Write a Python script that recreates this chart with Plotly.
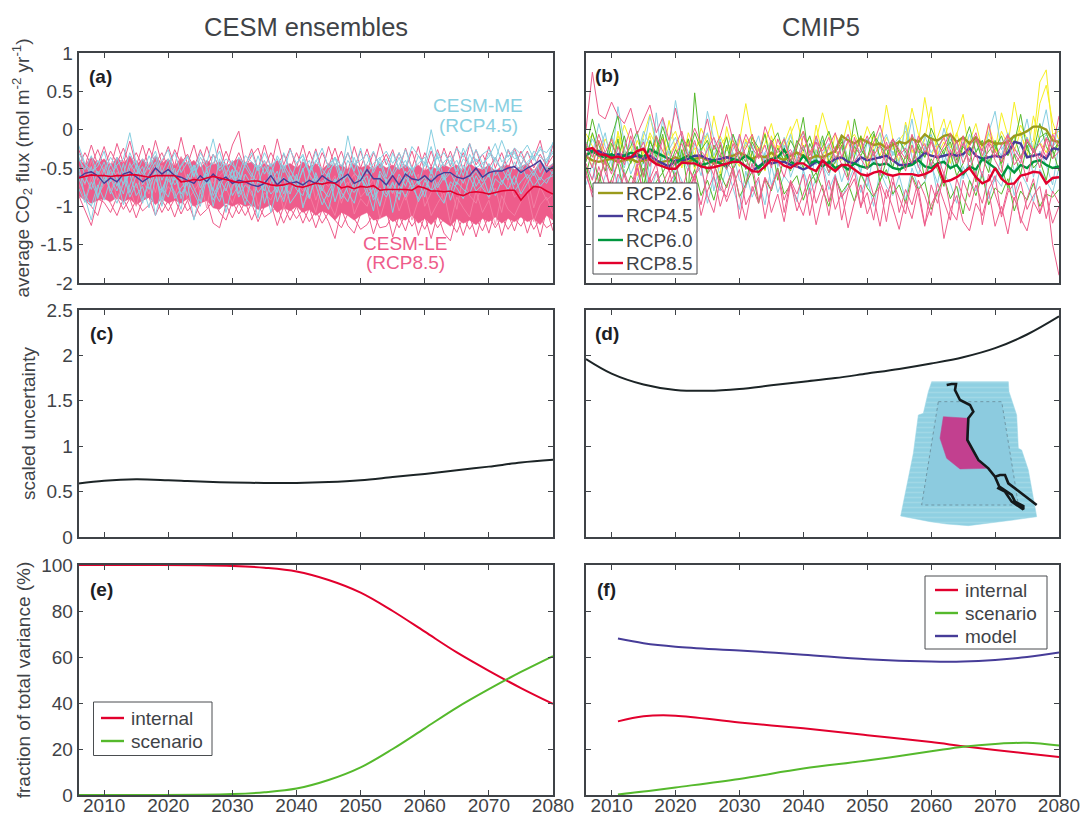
import plotly.graph_objects as go

years = list(range(2006, 2081))

# --- Panel (a): values in hundredths of mol m-2 yr-1
a_pink_upper = [-25,-48,-20,-46,-22,-50,-18,-44,-15,-48,-20,-50,-14,-44,-22,-48,-10,-46,-20,-52,-22,-48,-18,-50,-20,
 -2,-48,-25,-52,-20,-50,-12,-46,-24,-50,-20,-52,-25,-54,-22,-48,-28,-54,-22,-50,-25,-52,-18,-46,-26,
 -54,-24,-50,-22,-56,-28,-52,-24,-48,-22,-54,-18,-46,-32,-50,-36,-54,-26,-50,-28,-48,-36,-14,-50,-20]
a_pink_upper2 = [-48,-30,-46,-26,-48,-28,-44,-24,-46,-30,-48,-24,-44,-30,-50,-26,-44,-32,-50,-26,-48,-32,-50,-28,-48,
 -30,-50,-34,-24,-50,-30,-46,-32,-52,-30,-50,-28,-52,-30,-48,-24,-52,-30,-50,-28,-54,-30,-48,-32,-52,
 -30,-52,-28,-54,-30,-48,-26,-50,-28,-52,-30,-50,-26,-52,-22,-50,-30,-52,-24,-46,-28,-50,-32,-48,-34]
a_pink_lower = [-85,-105,-125,-90,-95,-108,-88,-104,-90,-115,-92,-88,-112,-92,-106,-90,-110,-92,-116,-95,-92,-122,-128,-98,-115,
 -96,-112,-96,-120,-100,-96,-125,-100,-118,-100,-122,-102,-128,-104,-120,-142,-104,-125,-135,-110,-104,-136,-110,-104,-140,
 -112,-132,-104,-138,-112,-142,-110,-135,-145,-112,-138,-112,-140,-110,-135,-104,-138,-110,-132,-106,-135,-110,-140,-104,-132]
a_pink_lower2 = [-70,-92,-100,-112,-84,-96,-112,-90,-108,-92,-106,-98,-88,-108,-92,-114,-90,-106,-96,-112,-104,-92,-108,-118,-94,
 -110,-94,-118,-98,-114,-108,-100,-122,-102,-116,-104,-120,-106,-122,-108,-118,-128,-110,-116,-130,-124,-110,-128,-126,-112,
 -128,-110,-126,-114,-130,-112,-128,-116,-120,-134,-114,-130,-116,-132,-112,-128,-114,-130,-116,-126,-112,-130,-116,-128,-122]
a_core_upper = [-38,-46,-36,-44,-38,-48,-36,-44,-34,-46,-38,-48,-34,-44,-38,-48,-36,-46,-40,-50,-40,-46,-42,-48,-42,
 -38,-46,-42,-50,-44,-48,-40,-48,-44,-50,-42,-48,-44,-52,-44,-48,-46,-52,-44,-50,-46,-52,-44,-50,-46,
 -52,-46,-52,-46,-54,-48,-52,-46,-50,-46,-54,-44,-50,-52,-46,-54,-48,-46,-52,-48,-44,-54,-42,-50,-44]
a_core_lower = [-86,-92,-96,-92,-90,-94,-88,-94,-90,-98,-92,-88,-98,-90,-96,-92,-96,-90,-100,-96,-92,-102,-104,-96,-100,
 -96,-100,-98,-104,-102,-98,-108,-102,-106,-100,-108,-104,-112,-106,-110,-118,-108,-112,-118,-112,-108,-118,-116,-112,-120,
 -116,-118,-112,-122,-116,-124,-114,-120,-126,-116,-122,-118,-124,-116,-120,-114,-122,-116,-120,-114,-120,-116,-124,-112,-118]
a_pink_m1 = [-50,-72,-40,-66,-48,-80,-55,-70,-42,-76,-60,-50,-82,-46,-68,-58,-35,-72,-54,-84,-44,-70,-60,-52,-78,
 -48,-66,-86,-58,-40,-74,-62,-90,-52,-70,-80,-56,-92,-66,-74,-60,-96,-72,-58,-88,-78,-64,-98,-70,-84,
 -62,-92,-74,-58,-100,-82,-68,-94,-72,-104,-60,-86,-96,-70,-90,-76,-108,-66,-88,-80,-62,-102,-74,-92,-84]
a_pink_m2 = [-70,-92,-62,-85,-72,-55,-90,-68,-78,-100,-66,-84,-52,-94,-74,-86,-60,-92,-80,-68,-102,-58,-88,-76,-96,
 -72,-90,-60,-100,-82,-92,-70,-104,-78,-64,-98,-84,-108,-72,-94,-112,-80,-68,-110,-90,-100,-76,-116,-88,-74,
 -106,-84,-118,-92,-78,-112,-96,-82,-122,-88,-102,-114,-80,-108,-92,-124,-86,-104,-112,-94,-82,-120,-98,-88,-110]
a_blue_m1 = [-38,-52,-34,-60,-42,-68,-36,-58,-30,-50,-62,-44,-28,-56,-38,-66,-46,-34,-60,-42,-70,-32,-54,-44,-64,
 -36,-48,-62,-34,-58,-44,-70,-30,-52,-66,-38,-56,-28,-60,-46,-36,-64,-40,-54,-24,-58,-44,-36,-62,-30,
 -52,-40,-60,-34,-48,-22,-54,-42,-34,-58,-38,-46,-26,-44,-36,-18,-42,-34,-28,-46,-30,-40,-22,-44,-16]
a_blue_m2 = [-62,-84,-100,-72,-92,-64,-80,-56,-88,-70,-96,-62,-112,-76,-88,-60,-84,-70,-118,-80,-66,-92,-74,-58,-86,
 -72,-98,-64,-82,-70,-108,-76,-62,-96,-84,-68,-90,-56,-78,-88,-66,-82,-94,-70,-60,-86,-76,-100,-64,-108,
 -72,-88,-66,-94,-78,-60,-84,-96,-68,-76,-90,-62,-80,-72,-58,-86,-66,-78,-60,-84,-70,-56,-74,-64,-60]
a_blue_m3 = [-30,-46,-60,-40,-54,-36,-50,-72,-44,-58,-38,-52,-34,-66,-48,-30,-56,-42,-62,-36,-50,-44,-28,-58,-40,
 -66,-46,-30,-54,-40,-60,-34,-50,-68,-44,-32,-58,-40,-52,-62,-36,-48,-30,-56,-66,-44,-28,-50,-38,-60,
 -46,-26,-52,-44,-36,-58,-30,-48,-40,-54,-24,-46,-38,-52,-30,-42,-50,-26,-38,-34,-48,-28,-36,-42,-30]
a_blue_m4 = [-76,-95,-68,-88,-60,-78,-96,-70,-58,-86,-74,-102,-64,-82,-54,-90,-76,-66,-84,-100,-62,-78,-94,-70,-60,
 -88,-72,-80,-115,-66,-84,-74,-94,-62,-78,-86,-58,-72,-98,-80,-64,-90,-74,-82,-68,-60,-92,-76,-88,-70,
 -84,-62,-74,-90,-66,-80,-72,-56,-92,-68,-78,-84,-60,-76,-88,-64,-72,-52,-80,-68,-58,-74,-62,-70,-54]
a_blue_m5 = [-20,-44,-54,-48,-28,-62,-46,-38,-4,-44,-58,-34,-52,-40,-26,-60,-48,-36,-54,-30,-44,-12,-50,-38,-46,
 -58,-34,-42,-52,-30,-48,-38,-56,-26,-44,-34,-54,-42,-24,-50,-36,-58,-8,-46,-40,-32,-56,-38,-28,-44,
 -30,-50,-22,-34,-44,0,-38,-30,-46,-24,-36,-18,-42,-32,-26,-40,-14,-36,-24,-32,-20,-38,-26,-30,-18]
a_blue_m6 = [-56,-70,-48,-90,-66,-52,-74,-44,-82,-60,-48,-78,-56,-92,-50,-72,-62,-86,-46,-76,-58,-100,-64,-80,-52,
 -84,-58,-72,-46,-96,-68,-54,-84,-60,-76,-50,-88,-64,-70,-56,-94,-68,-60,-78,-52,-72,-88,-54,-68,-82,
 -58,-74,-50,-70,-62,-80,-48,-66,-56,-72,-46,-64,-54,-68,-44,-60,-50,-66,-42,-58,-48,-60,-40,-52,-44]
a_blue_m7 = [-46,-88,-118,-76,-52,-84,-62,-98,-72,-46,-92,-70,-54,-100,-64,-82,-104,-58,-76,-94,-50,-86,-68,-108,-74,
 -56,-88,-100,-66,-80,-52,-94,-72,-84,-58,-102,-74,-60,-88,-104,-70,-54,-82,-96,-62,-78,-106,-58,-84,-68,
 -92,-54,-78,-66,-88,-52,-76,-62,-82,-56,-70,-48,-74,-60,-84,-50,-68,-58,-72,-46,-64,-52,-66,-48,-58]
a_blue_m8 = [-34,-60,-78,-54,-70,-44,-64,-84,-50,-40,-72,-56,-42,-78,-60,-50,-90,-64,-46,-68,-54,-80,-38,-66,-52,
 -74,-42,-58,-70,-48,-62,-82,-46,-60,-74,-52,-40,-66,-80,-54,-44,-70,-58,-36,-62,-76,-50,-42,-68,-56,
 -36,-60,-48,-72,-42,-56,-34,-64,-50,-40,-60,-32,-50,-44,-62,-36,-54,-40,-30,-52,-42,-34,-56,-38,-28]
a_mean85 = [-63,-61,-59,-60,-60,-61,-60,-60,-59,-59,-61,-62,-60,-60,-60,-60,-68,-67,-65,-66,-63,-61,-63,-65,-66,
 -69,-68,-67,-67,-70,-72,-73,-72,-70,-74,-75,-72,-70,-71,-69,-70,-76,-74,-77,-74,-75,-73,-79,-78,-78,
 -78,-78,-79,-74,-76,-80,-80,-81,-80,-84,-86,-82,-81,-82,-84,-82,-80,-79,-79,-92,-82,-74,-75,-80,-84]
a_mean45 = [-63,-57,-55,-60,-70,-63,-68,-58,-55,-62,-68,-62,-50,-58,-52,-60,-62,-66,-70,-60,-68,-58,-66,-62,-70,
 -66,-68,-72,-74,-70,-60,-72,-64,-70,-68,-72,-66,-70,-60,-66,-70,-64,-58,-70,-66,-52,-64,-64,-72,-60,
 -72,-58,-64,-66,-60,-68,-60,-56,-56,-62,-64,-60,-50,-62,-56,-54,-54,-50,-48,-56,-50,-46,-40,-55,-48]

# --- Panel (b)
b_yellow1 = [-5,-22,-38,-12,-30,-8,-26,-44,-14,-32,-4,-20,-38,-16,-2,-30,-12,-34,2,-18,-42,-8,-28,-14,-36,
 -20,-6,-34,-18,8,-26,-12,-40,-22,-2,-30,-14,22,-8,-28,-40,-16,-6,-24,4,-18,-34,-10,-26,-14,
 -2,-30,-18,42,-6,-22,-12,12,-26,-8,-30,-14,-20,-4,-28,22,-8,-18,6,-12,-24,34,58,10,-14]
b_yellow2 = [-18,-6,-30,-46,-12,-24,6,-16,-38,-8,20,-22,-10,-34,-18,-50,-4,-26,-14,-36,18,-20,-8,-44,-16,
 34,-12,-28,-4,-36,-20,-42,-6,14,-24,-10,-30,-16,-46,-6,-22,12,-32,-14,-40,-8,-24,32,-12,-30,
 -18,28,-6,-22,-36,-10,14,-24,-4,-34,-16,8,-26,-12,-30,-2,-20,36,-8,-24,-14,62,78,-6,-2]
b_yellow3 = [-30,-48,-14,-36,-54,-2,-40,-22,-60,-28,-8,-46,-34,12,-26,-44,-16,-52,-30,-6,-38,-58,4,-32,-48,
 -12,-42,-26,-54,-8,-36,-18,4,-44,-28,-50,6,-34,-20,-56,-10,-38,-26,-8,-48,-22,-4,-36,-18,-42,
 10,-26,-40,-12,30,-32,-16,-44,-6,20,-30,-14,-38,6,-22,-44,-10,-28,-2,-36,18,-16,-30,-8,-26]
b_blue1 = [-36,-12,-28,-44,-8,-30,-50,-14,-34,-2,-22,-40,14,-26,-10,-36,-54,-18,-32,24,-12,-44,-22,-6,-38,
 -16,-30,-8,-42,-20,-48,-10,-34,-18,-4,-28,-46,-14,-36,-24,-6,-40,-18,-30,-12,-44,-22,-6,-34,-16,
 -26,14,-40,-8,-30,-18,-44,-12,-24,-36,-6,-28,-14,-46,-20,-34,-4,-24,-38,-10,-26,-18,-6,-22,-12]
b_blue2 = [-50,-64,-30,-4,-46,-70,-24,-58,-38,-12,-62,22,-44,-28,-70,-8,-48,-34,-60,-18,-80,-42,-52,-30,-66,
 -76,-44,-58,-30,-72,-48,-20,-62,-38,-54,-78,-26,-46,-60,-34,-68,-42,-20,-56,-74,-32,-50,-64,-28,-44,
 6,-36,-60,-22,-46,-70,-30,-52,-14,-64,-38,-58,-24,-48,-68,-34,-18,-54,-40,-10,-62,-28,-46,-72,-20]
b_blue3 = [-16,-32,8,-22,-40,30,-18,-36,-6,-28,18,-14,-44,-24,38,-10,-30,-48,-20,-4,-34,-12,-52,-26,-8,
 -42,-20,-60,-30,-14,-46,-26,-6,-38,-22,-52,-12,-32,-18,-44,-24,-8,-36,-56,-16,-30,-4,-42,-20,-10,
 -34,-14,-50,-24,-6,-38,2,-28,-46,-16,-32,-10,-42,-4,24,-26,-12,-36,-20,14,-30,-8,26,-24,4]
b_blue4 = [-72,-44,-88,-60,-36,-78,-52,-92,-66,-40,-84,-56,-74,-100,-48,-68,-86,-58,-44,-96,-62,-80,-50,-76,-104,
 -54,-88,-66,-98,-46,-82,-60,-72,-94,-52,-84,-64,-44,-78,-58,-90,-70,-48,-82,-62,-100,-54,-74,-86,-60,
 -92,-50,-76,-68,-42,-84,-58,-70,-96,-48,-66,-80,-54,-90,-62,-74,-44,-86,-56,-72,-94,-52,-68,-82,-50]
b_green1 = [-42,-4,-30,-54,-18,-38,-8,-44,-22,-60,-14,-36,-6,-50,-26,-40,-12,-48,-30,-56,-20,-36,-10,-44,-28,
 -52,-16,-34,-6,-46,-24,-40,-14,-30,-50,-18,-36,-8,-42,-26,-12,-46,-22,-34,-16,-2,-38,-24,-50,-14,
 -30,-44,-18,-36,-10,-42,-26,-16,-48,-22,-34,-12,-40,-28,-18,-44,-24,-8,-36,-16,-30,8,-22,-38,-14]
b_green2 = [-60,-24,-70,-36,-54,-12,-62,-42,-22,-74,-34,-8,-56,-40,-64,-26,-80,48,-30,-58,-44,-68,-20,-52,-36,
 -72,-28,-60,-46,-16,-66,-38,-54,-24,16,-48,-70,-32,-56,-42,-20,-62,-36,-8,-52,-26,-68,-40,-16,-58,
 -34,-46,-22,-64,-38,-52,-74,-30,-60,-44,-24,-68,-36,-56,-14,-48,-76,-32,-58,-20,-50,-40,-66,-26,-54]
b_green3 = [-48,-78,-56,-90,-64,-44,-84,-60,-72,-50,-94,-68,-56,-82,-62,-100,-74,-52,-86,-66,-92,-58,-76,-48,-88,
 -70,-54,-96,-64,-80,-50,-84,-72,-60,-92,-68,-56,-78,-100,-62,-82,-70,-94,-58,-76,-88,-66,-52,-84,-72,
 -96,-60,-78,-68,-104,-82,-62,-90,-74,-110,-66,-86,-58,-98,-76,-84,-64,-106,-80,-92,-70,-100,-84,-88,-78]
b_green4 = [-26,14,-20,-40,-10,18,-34,-22,-2,-44,-16,-30,4,-24,-48,-12,-36,-4,-26,-14,-40,-20,-50,-6,-30,
 -42,-10,-24,-52,-18,-4,-34,-46,-14,-28,-8,-38,-22,-2,-30,-16,-44,14,-26,-38,-6,-20,-34,-12,-28,
 -46,-8,-24,-36,2,-18,-32,-6,-40,-20,4,-30,-14,-42,-24,-8,-34,-18,20,-26,-36,-10,-4,-28,-16]
b_pink1 = [0,75,20,14,36,18,8,28,-6,12,32,-4,16,-14,28,-10,-22,2,-18,14,-26,-8,20,-14,-32,
 -6,-24,-36,4,-18,-30,-12,-42,-20,-2,-34,-16,-28,-10,-38,-22,-6,-30,-14,-40,-18,6,-26,-12,-34,
 -24,-44,-8,-30,-16,-38,-22,-4,-32,-18,-42,-12,-28,8,-36,-20,-6,-30,-44,-14,-26,-38,-10,-24,18]
b_pink2 = [-30,-50,-14,-40,-58,-22,-46,-8,-34,-62,-26,-44,-12,-54,-32,-18,-48,-66,-28,-38,-60,-16,-42,-54,-6,
 -36,-58,-24,-48,-14,-40,-62,-30,-50,-20,-44,-8,-34,-56,-22,-46,-66,-10,-38,-52,-28,-60,-16,-42,-30,
 -54,-20,-48,-64,-12,-36,-58,-26,-44,-8,-52,-30,-62,-18,-40,-56,-14,-46,-34,-68,-24,-50,-12,-38,-28]
b_pink3 = [-60,-82,-48,-74,-66,-92,-56,-78,-44,-86,-62,-104,-70,-52,-88,-68,-94,-58,-112,-80,-60,-100,-72,-50,-86,
 -118,-74,-96,-64,-108,-84,-120,-70,-92,-112,-76,-124,-88,-66,-104,-82,-128,-94,-72,-110,-88,-126,-78,-102,-130,
 -92,-116,-76,-124,-98,-80,-142,-104,-86,-120,-132,-96,-112,-80,-126,-100,-136,-88,-116,-132,-94,-110,-84,-122,-100]
b_pink4 = [-44,-66,-30,-56,-76,-38,-60,-86,-48,-34,-72,-54,-90,-62,-40,-80,-50,-68,-98,-58,-42,-76,-88,-54,-116,
 -70,-44,-92,-62,-78,-52,-108,-66,-84,-58,-112,-72,-48,-94,-60,-118,-80,-64,-102,-56,-86,-74,-120,-68,-90,
 -110,-62,-84,-126,-72,-96,-58,-104,-118,-66,-88,-54,-124,-78,-60,-114,-82,-70,-122,-90,-64,-108,-78,-150,-190]
b_pink5 = [-18,-36,-6,-30,-12,-44,-24,2,-34,-16,-48,-8,-28,-40,-20,-2,-36,-14,-46,-26,-10,-32,-52,-18,-40,
 -24,-6,-38,-20,-50,-12,-34,-26,-44,-8,-30,-16,-48,-22,-4,-36,-14,-42,-28,-8,-34,-20,-46,-12,-26,
 -38,-6,-30,-18,-48,-24,-10,-36,-14,-44,-22,-4,-34,-16,-28,-42,-8,-24,-38,-12,-30,-18,-36,-6,-22]
b_pink6 = [-54,-88,-66,-40,-96,-58,-74,-104,-50,-82,-64,-44,-92,-70,-56,-102,-78,-60,-48,-86,-108,-66,-94,-72,-52,
 -98,-80,-62,-116,-74,-56,-92,-68,-106,-84,-58,-96,-72,-112,-62,-88,-76,-54,-100,-82,-118,-68,-90,-60,-108,
 -78,-98,-66,-86,-112,-70,-94,-118,-64,-88,-106,-72,-96,-58,-84,-110,-76,-92,-68,-104,-86,-74,-116,-80,-96]
b_mean26 = [-35,-40,-42,-40,-38,-42,-40,-38,-42,-40,-38,-44,-42,-40,-36,-40,-42,-38,-36,-40,-44,-42,-36,-34,-30,
 -34,-38,-34,-36,-30,-36,-40,-34,-30,-34,-38,-34,-36,-32,-28,-8,-14,-18,-12,-16,-20,-18,-24,-20,-16,
 -18,-12,-16,-6,-12,-14,-8,-6,-16,-10,-18,-10,-20,-14,-18,-18,-16,-8,-6,-2,4,4,0,-14,-16]
b_mean45 = [-26,-28,-28,-32,-34,-32,-34,-36,-34,-38,-34,-40,-44,-48,-40,-40,-38,-34,-34,-38,-40,-38,-36,-38,-42,
 -48,-54,-48,-42,-44,-42,-42,-46,-48,-52,-48,-42,-42,-44,-38,-36,-42,-44,-36,-40,-38,-36,-34,-40,-46,
 -46,-44,-38,-30,-34,-36,-34,-32,-34,-32,-24,-34,-38,-36,-34,-36,-30,-16,-18,-36,-34,-32,-38,-24,-26]
b_mean60 = [-34,-28,-34,-36,-32,-38,-34,-30,-32,-36,-26,-30,-34,-38,-44,-38,-34,-40,-46,-44,-40,-44,-48,-38,-40,
 -34,-40,-50,-42,-38,-36,-26,-42,-46,-34,-44,-40,-48,-42,-50,-46,-52,-44,-48,-50,-44,-46,-44,-50,-52,
 -48,-46,-40,-48,-50,-44,-42,-50,-46,-58,-48,-52,-38,-44,-50,-62,-48,-56,-46,-50,-42,-40,-46,-50,-48]
b_mean85 = [-26,-24,-32,-33,-37,-35,-38,-36,-28,-25,-39,-45,-48,-51,-51,-43,-44,-44,-48,-50,-49,-47,-44,-42,-42,
 -48,-54,-55,-48,-39,-41,-47,-50,-44,-44,-50,-54,-40,-48,-54,-46,-46,-52,-58,-60,-56,-54,-58,-60,-58,
 -58,-58,-60,-58,-54,-45,-68,-66,-62,-56,-50,-62,-70,-66,-50,-64,-71,-70,-60,-58,-55,-56,-70,-63,-62]
b_legend_names = ['RCP2.6','RCP4.5','RCP6.0','RCP8.5']

# --- Panels (c)-(f): smooth curves read at selected years
c_years = [2006,2010,2015,2020,2025,2030,2035,2040,2045,2050,2055,2060,2065,2070,2075,2080]
c_uncert = [.59,.62,.635,.625,.61,.60,.595,.595,.605,.625,.66,.695,.735,.775,.82,.85]
d_uncert = [1.96,1.80,1.68,1.62,1.61,1.63,1.67,1.71,1.75,1.80,1.85,1.91,1.98,2.08,2.23,2.43]
e_years = [2006,2015,2025,2030,2035,2040,2045,2050,2055,2060,2065,2070,2075,2080]
e_internal = [100,100,99.9,99.6,98.8,97.2,93.5,88,80,71,62,54,46.5,39.6]
e_scenario = [0,0,.1,.4,1.2,2.8,6.5,12,20,29,38,46,53.5,60.4]
f_years = [2011,2015,2020,2030,2040,2050,2060,2065,2070,2075,2080]
f_internal = [32,34.2,34.5,31.5,29,26,23,21.2,19.6,18,16.5]
f_scenario = [.2,1.5,3.3,7,11.5,15,19,21,22.2,22.7,21.5]
f_model = [68,66,64.5,62.8,61,59,58,58,58.7,60,62]

# --- Inset map outlines
map_outer_x = [155,385,387,410,415,425,445,470,400,330,265,200,150,62,100,115,130,145,155]
map_outer_y = [35,35,65,135,235,240,300,440,450,460,467,462,455,438,250,135,130,65,35]
map_inner_x = [175,365,405,415,125,175]
map_inner_y = [95,95,340,405,405,95]
map_mag_x = [190,265,265,290,320,240,200,180,190]
map_mag_y = [140,145,215,270,295,297,265,205,140]
coast_x = [200,215,228,225,240,270,280,265,262,295,325,345,358,395,405,430,430,395,375,355,358,345,360,375,385,430,470]
coast_y = [45,42,42,60,90,105,125,145,210,270,295,320,350,375,395,408,418,395,365,355,350,320,315,315,340,375,405]

PINK='#ee5c8b'; LBLUE='#88cfe1'; YEL='#f6ef22'; GRN='#55b92c'
RED='#e2002d'; IND='#463c98'; OLV='#9a9b1c'; DGRN='#00963e'; INK='#3f4347'
W, H = 1081, 816
FONT = 'Liberation Sans, Arial, sans-serif'
FS = 19

def X(p): return p / W
def Y(p): return 1 - p / H

fig = go.Figure()
dom_x = [(78.5, 553), (586, 1059)]
dom_y = [(53, 283), (310, 537), (565, 795)]
names = {(0,0):'', (0,1):'2', (1,0):'3', (1,1):'4', (2,0):'5', (2,1):'6'}

def h(vals): return [v / 100 for v in vals]
def add(row, col, x, y, **kw):
    s = names[(row, col)]
    fig.add_trace(go.Scatter(x=x, y=y, mode='lines', xaxis='x'+s, yaxis='y'+s, showlegend=False, **kw))

# (a)
add(0,0,years,h(a_core_upper),line=dict(color=PINK,width=0.5))
add(0,0,years,h(a_core_lower),line=dict(color=PINK,width=0.5),fill='tonexty',fillcolor=PINK)
for m in (a_pink_upper,a_pink_upper2,a_pink_lower,a_pink_lower2):
    add(0,0,years,h(m),line=dict(color=PINK,width=1))
for m in (a_pink_m1,a_pink_m2):
    add(0,0,years,h(m),line=dict(color='#f287a8',width=0.8))
for m in (a_blue_m1,a_blue_m2,a_blue_m3,a_blue_m4,a_blue_m5,a_blue_m6,a_blue_m7,a_blue_m8):
    add(0,0,years,h(m),line=dict(color=LBLUE,width=1))
add(0,0,years,h(a_mean45),line=dict(color=IND,width=1.4))
add(0,0,years,h(a_mean85),line=dict(color=RED,width=1.6))

# (b)
for m in (b_yellow1,b_yellow2,b_yellow3):
    add(0,1,years,h(m),line=dict(color=YEL,width=1))
for m in (b_blue1,b_blue2,b_blue3,b_blue4):
    add(0,1,years,h(m),line=dict(color=LBLUE,width=1))
for m in (b_green1,b_green2,b_green3,b_green4):
    add(0,1,years,h(m),line=dict(color=GRN,width=1))
add(0,1,years,h(b_mean26),line=dict(color=OLV,width=2.4),name=b_legend_names[0])
add(0,1,years,h(b_mean45),line=dict(color=IND,width=2.4),name=b_legend_names[1])
add(0,1,years,h(b_mean60),line=dict(color=DGRN,width=2.4),name=b_legend_names[2])
for m in (b_pink1,b_pink2,b_pink3,b_pink4,b_pink5,b_pink6):
    add(0,1,years,h(m),line=dict(color=PINK,width=1))
add(0,1,years,h(b_mean85),line=dict(color=RED,width=2.4),name=b_legend_names[3])

# (c), (d)
add(1,0,c_years,c_uncert,line=dict(color='#1c2426',width=2,shape='spline'))
add(1,1,c_years,d_uncert,line=dict(color='#1c2426',width=2,shape='spline'))

# (e), (f)
add(2,0,e_years,e_internal,line=dict(color=RED,width=2,shape='spline'),name='internal')
add(2,0,e_years,e_scenario,line=dict(color=GRN,width=2,shape='spline'),name='scenario')
add(2,1,f_years,f_internal,line=dict(color=RED,width=2,shape='spline'),name='internal')
add(2,1,f_years,f_scenario,line=dict(color=GRN,width=2,shape='spline'),name='scenario')
add(2,1,f_years,f_model,line=dict(color=IND,width=2,shape='spline'),name='model')

# inset map on its own axes
mk = dict(mode='lines', xaxis='x7', yaxis='y7', showlegend=False)
fig.add_trace(go.Scatter(x=map_outer_x,y=map_outer_y,fill='toself',
    fillpattern=dict(shape='-',bgcolor='#8fd0e2',fgcolor='#b3e0ea',size=5,solidity=0.3),
    line=dict(color='#98d4e4',width=0.5),**mk))
fig.add_trace(go.Scatter(x=map_inner_x,y=map_inner_y,fill='toself',fillcolor='#8ccbdf',line=dict(color='#6f97a6',width=1,dash='dot'),**mk))
fig.add_trace(go.Scatter(x=map_mag_x,y=map_mag_y,fill='toself',fillcolor='#c2408f',line=dict(color='#c2408f',width=0.5),**mk))
fig.add_trace(go.Scatter(x=coast_x,y=coast_y,line=dict(color='#14191b',width=2.6),**mk))

ax = dict(automargin=False, showgrid=False, zeroline=False, showline=True, linecolor=INK, linewidth=1.6,
          mirror='allticks', ticks='inside', ticklen=5, tickwidth=1.2, tickcolor=INK,
          tickfont=dict(family=FONT, size=FS, color=INK))
xticks = list(range(2010, 2090, 10))
ylay = [dict(range=[-2,1], tickvals=[-2,-1.5,-1,-.5,0,.5,1], ticktext=['-2','-1.5','-1','-0.5','0','0.5','1']),
        dict(range=[0,2.5], tickvals=[0,.5,1,1.5,2,2.5], ticktext=['0','0.5','1','1.5','2','2.5']),
        dict(range=[0,100], tickvals=[0,20,40,60,80,100])]
ytitles = ['average CO<sub>2</sub> flux (mol m<sup>-2</sup> yr<sup>-1</sup>)', 'scaled uncertainty', 'fraction of total variance (%)']
standoffs = [6, 6, 6]
layout = {}
for (r, c), s in names.items():
    layout['xaxis'+s] = dict(ax, domain=[X(dom_x[c][0]), X(dom_x[c][1])], range=[2006,2080],
                             anchor='y'+s, tickvals=xticks, showticklabels=(r == 2), ticklabelstandoff=-8)
    ydict = dict(ax, domain=[Y(dom_y[r][1]), Y(dom_y[r][0])], anchor='x'+s, showticklabels=(c == 0), **ylay[r])
    if c == 0:
        ydict['title'] = dict(text=ytitles[r], standoff=standoffs[r], font=dict(family=FONT, size=FS, color=INK))
    layout['yaxis'+s] = ydict
layout['xaxis7'] = dict(domain=[X(880), X(1060)], range=[0,540], visible=False, anchor='y7')
layout['yaxis7'] = dict(domain=[Y(540), Y(370)], range=[510,0], visible=False, anchor='x7')

def note(px, py, text, color=INK, size=FS, bold=False, anchor='center'):
    return dict(x=X(px), y=Y(py), xref='paper', yref='paper', text=('<b>%s</b>' % text) if bold else text,
                showarrow=False, font=dict(family=FONT, size=size, color=color), xanchor=anchor, yanchor='middle',
                borderpad=0)
anns = [note(306,27,'CESM ensembles',size=25.5), note(821,27,'CMIP5',size=25.5)]
for t, px, py in [('(a)',100,76),('(b)',607,75),('(c)',101,333),('(d)',607,333),('(e)',101,589),('(f)',606,589)]:
    anns.append(note(px,py,t,color='#1c2024',bold=True))
anns += [note(478,106,'CESM-ME',color=LBLUE), note(478,125,'(RCP4.5)',color=LBLUE),
         note(405,243,'CESM-LE',color=PINK), note(405,262,'(RCP8.5)',color=PINK)]

# compact legends: frame, line sample and label for each entry
shapes = []
def legend(box, x0, x1, xt, rows, labels, colors):
    l, t, r, b = box
    shapes.append(dict(type='rect', xref='paper', yref='paper', x0=X(l), x1=X(r), y0=Y(b), y1=Y(t),
                       fillcolor='white', line=dict(color='#4a4d50', width=1), layer='above'))
    for y, lab, col in zip(rows, labels, colors):
        shapes.append(dict(type='line', xref='paper', yref='paper', x0=X(x0), x1=X(x1), y0=Y(y), y1=Y(y),
                           line=dict(color=col, width=2.4), layer='above'))
        anns.append(note(xt, y, lab, anchor='left'))
legend((593,183,697,274), 598, 623, 625, [193,216,240,263], b_legend_names, [OLV,IND,DGRN,RED])
legend((93.5,702,212,755.5), 101, 124, 130, [718,741], ['internal','scenario'], [RED,GRN])
legend((925,576,1047,649), 935, 958, 964, [590,613,636], ['internal','scenario','model'], [RED,GRN,IND])

fig.update_layout(width=W, height=H, autosize=False, margin=dict(l=0,r=0,t=0,b=0), plot_bgcolor='rgba(0,0,0,0)', paper_bgcolor='white',
                  annotations=anns, shapes=shapes, showlegend=False, **layout)
fig.write_html('out.html', config={'displayModeBar': False, 'responsive': False}, default_width=W, default_height=H,
               post_script="document.body.style.margin='0';")
